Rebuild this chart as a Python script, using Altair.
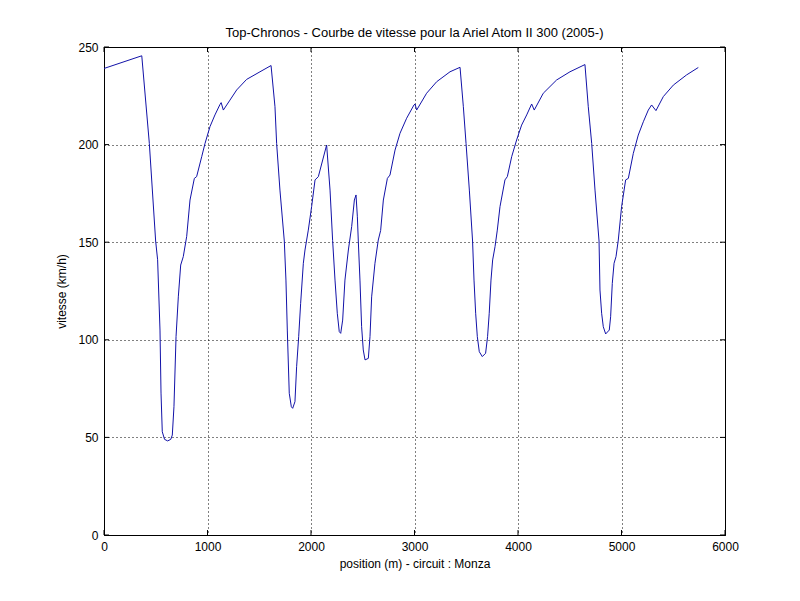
import altair as alt
import pandas as pd

position = [0, 365, 438, 499, 518, 541, 551, 563, 585, 615, 645, 660, 676, 696, 718, 741, 766, 799, 831, 873, 895, 944, 976, 1024, 1072, 1121, 1132, 1153, 1217, 1282, 1378, 1507, 1614,
            1652, 1668, 1700, 1742, 1758, 1771, 1790, 1810, 1823, 1845, 1861, 1881, 1900, 1926, 1942, 1974, 2006, 2039, 2071, 2151,
            2184, 2209, 2232, 2254, 2273, 2287, 2306, 2328, 2361, 2393, 2419, 2435,
            2448, 2457, 2473, 2489, 2505, 2522, 2554, 2570, 2586, 2618, 2650, 2673, 2699, 2738, 2763, 2812, 2860, 2924, 2995, 3005, 3021, 3117, 3214, 3343, 3440,
            3472, 3498, 3530, 3561, 3575, 3591, 3607, 3626, 3655, 3687, 3706, 3722, 3739, 3755, 3778, 3800, 3826, 3874, 3897, 3939, 3987, 4035, 4084, 4132, 4157, 4244, 4373, 4502, 4647,
            4679, 4712, 4744, 4783, 4792, 4808, 4824, 4847, 4882, 4895, 4911, 4928, 4947, 4969, 5001, 5040, 5066, 5114, 5162, 5211, 5259, 5291, 5333, 5404, 5501, 5629, 5742]
vitesse = [239, 245.5, 200.6, 150.6, 141, 105, 72.7, 52.9, 49, 48.2, 49, 51.2, 65.7, 101.6, 122, 138.3, 142.6, 153, 171.6, 182.7, 183.6, 193.8, 200.6, 209.2, 215.2, 220.6, 221.5, 217.7, 222.8, 228, 233.4, 237.3, 240.5,
           219.4, 200.6, 176.7, 150.6, 130.6, 105, 72.6, 65.7, 64.9, 68.3, 86.2, 101.6, 118.7, 139.2, 146, 156.2, 168.2, 181.9, 183.6, 199.8,
           176.7, 150.8, 130.6, 113.6, 104.2, 103.3, 110.1, 130.6, 146, 158, 171.6, 174.2,
           163, 150.6, 130.6, 106.7, 94.8, 89.7, 90.5, 101.6, 122, 139.2, 151.1, 156, 171.6, 182.7, 184.4, 197.2, 205.8, 213.5, 220.3, 220.8, 217.7, 226.3, 232.2, 237.3, 239.6,
           219.4, 200.6, 176.7, 150.6, 130.6, 113.6, 101.6, 93.9, 91.4, 93.1, 101.6, 113.6, 130.6, 140.9, 147.7, 156.2, 168.2, 181.9, 183.6, 193.8, 202.4, 210, 215.2, 220.8, 217.7, 226.3, 233.1, 237.3, 241,
           219.4, 200.6, 176.7, 150.6, 125.5, 113.6, 106.7, 103, 105, 111.8, 128.9, 139.2, 142.6, 151.1, 168.2, 181.9, 182.7, 195.5, 204.9, 211.7, 217.7, 220.3, 217.4, 224.6, 230.5, 235.7, 239.5]

x_ticks = [0, 1000, 2000, 3000, 4000, 5000, 6000]
y_ticks = [0, 50, 100, 150, 200, 250]

title = "Top-Chronos - Courbe de vitesse pour la Ariel Atom II 300 (2005-)"
x_title = "position (m) - circuit : Monza"
y_title = "vitesse (km/h)"

FONT = "Liberation Sans"
W, H = 621, 488

df = pd.DataFrame({"position": position, "vitesse": vitesse})
xs = alt.Scale(domain=[0, 6000], nice=False)
ys = alt.Scale(domain=[0, 250], nice=False)

line = alt.Chart(df).mark_line(color="#1212a8", strokeWidth=1, clip=True).encode(
    x=alt.X("position:Q", scale=xs, title=x_title,
            axis=alt.Axis(values=x_ticks, grid=True, gridDash=[1, 3], gridColor="black", gridOpacity=1,
                          ticks=False, domainColor="black", labelPadding=6, titlePadding=6,
                          format="d", labelFlush=False)),
    y=alt.Y("vitesse:Q", scale=ys, title=y_title,
            axis=alt.Axis(values=y_ticks, grid=True, gridDash=[1, 3], gridColor="black", gridOpacity=1,
                          ticks=False, domainColor="black", labelPadding=6, titlePadding=9,
                          format="d", labelFlush=False)),
)

xt = pd.DataFrame({"t": x_ticks})
yt = pd.DataFrame({"t": y_ticks})
tick_bot = alt.Chart(xt).mark_rule(color="black").encode(x=alt.X("t:Q", scale=xs), y=alt.value(H), y2=alt.value(H - 5))
tick_top = alt.Chart(xt).mark_rule(color="black").encode(x=alt.X("t:Q", scale=xs), y=alt.value(0), y2=alt.value(5))
tick_left = alt.Chart(yt).mark_rule(color="black").encode(y=alt.Y("t:Q", scale=ys), x=alt.value(0), x2=alt.value(5))
tick_right = alt.Chart(yt).mark_rule(color="black").encode(y=alt.Y("t:Q", scale=ys), x=alt.value(W), x2=alt.value(W - 5))

chart = alt.layer(line, tick_bot, tick_top, tick_left, tick_right).properties(
    width=W, height=H,
    title=alt.TitleParams(title, fontSize=13, font=FONT, fontWeight="normal", color="black", offset=1),
    autosize=alt.AutoSizeParams(type="none"),
    padding={"left": 96, "top": 39, "right": 67, "bottom": 58},
    background="white",
).configure_view(stroke="black", strokeWidth=1).configure_axis(
    labelFont=FONT, titleFont=FONT, labelFontSize=12, titleFontSize=12,
    labelColor="black", titleColor="black", titleFontWeight="normal",
)

chart.save("out.html", embed_options={"renderer": "svg", "actions": False})
